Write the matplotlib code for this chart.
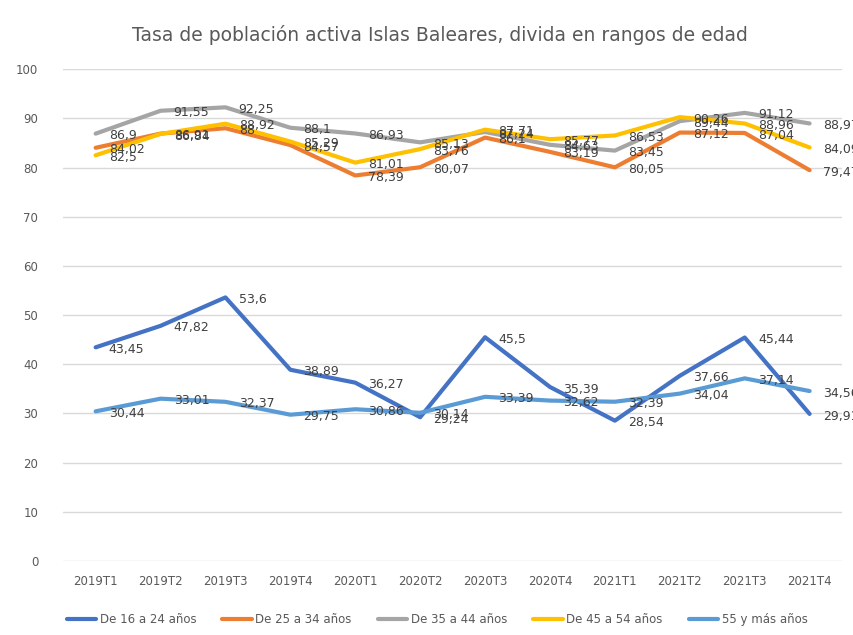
import matplotlib
matplotlib.use("Agg")
import matplotlib.pyplot as plt

quarters = ["2019T1", "2019T2", "2019T3", "2019T4", "2020T1", "2020T2",
            "2020T3", "2020T4", "2021T1", "2021T2", "2021T3", "2021T4"]

edad_16_24 = [43.45, 47.82, 53.6, 38.89, 36.27, 29.24, 45.5, 35.39, 28.54, 37.66, 45.44, 29.91]
edad_25_34 = [84.02, 86.91, 88, 84.57, 78.39, 80.07, 86.1, 83.19, 80.05, 87.12, 87.04, 79.47]
edad_35_44 = [86.9, 91.55, 92.25, 88.1, 86.93, 85.13, 87.24, 84.63, 83.45, 89.44, 91.12, 88.97]
edad_45_54 = [82.5, 86.84, 88.92, 85.29, 81.01, 83.76, 87.71, 85.77, 86.53, 90.26, 88.96, 84.09]
edad_55_mas = [30.44, 33.01, 32.37, 29.75, 30.86, 30.14, 33.39, 32.62, 32.39, 34.04, 37.14, 34.56]

series_names = ["De 16 a 24 años", "De 25 a 34 años", "De 35 a 44 años",
                "De 45 a 54 años", "55 y más años"]
series_values = [edad_16_24, edad_25_34, edad_35_44, edad_45_54, edad_55_mas]
colors = ["#4472C4", "#ED7D31", "#A5A5A5", "#FFC000", "#5B9BD5"]

plt.rcParams['font.family'] = ['DejaVu Sans']

fig = plt.figure(figsize=(8.54, 6.35), dpi=100)
ax = fig.add_axes([0.074, 0.1165, 0.912, 0.7745])

x = list(range(len(quarters)))
for name, values, color in zip(series_names, series_values, colors):
	ax.plot(x, values, color=color, lw=3, label=name, solid_capstyle='round', solid_joinstyle='round')

# data labels to the right of each point, with comma decimals
for values in series_values:
	for xi, v in zip(x, values):
		label = f"{v:g}".replace('.', ',')
		ax.annotate(label, (xi, v), xytext=(9.5, -1.5), textcoords='offset points',
			ha='left', va='center', fontsize=9, color='#404040', annotation_clip=False)

ax.set_xlim(-0.5, len(quarters) - 0.5)
ax.set_ylim(0, 100)
ax.set_yticks(range(0, 101, 10))
ax.set_xticks(x)
ax.set_xticklabels(quarters)
ax.tick_params(axis='both', length=0, labelsize=8.5, labelcolor='#595959')
ax.tick_params(axis='x', pad=10)
ax.tick_params(axis='y', pad=18)
ax.grid(True, axis='y', color='#D9D9D9', lw=1)
ax.set_axisbelow(True)
for spine in ax.spines.values():
	spine.set_visible(False)

fig.suptitle("Tasa de población activa Islas Baleares, divida en rangos de edad",
	x=0.515, y=0.96, fontsize=13.5, color='#595959')

ax.legend(loc='upper center', bbox_to_anchor=(0.48, -0.085), ncol=5, frameon=False,
	fontsize=8.5, labelcolor='#595959', handlelength=2.5, handletextpad=0.3, columnspacing=2.2)

plt.savefig("out.png", dpi=100)
